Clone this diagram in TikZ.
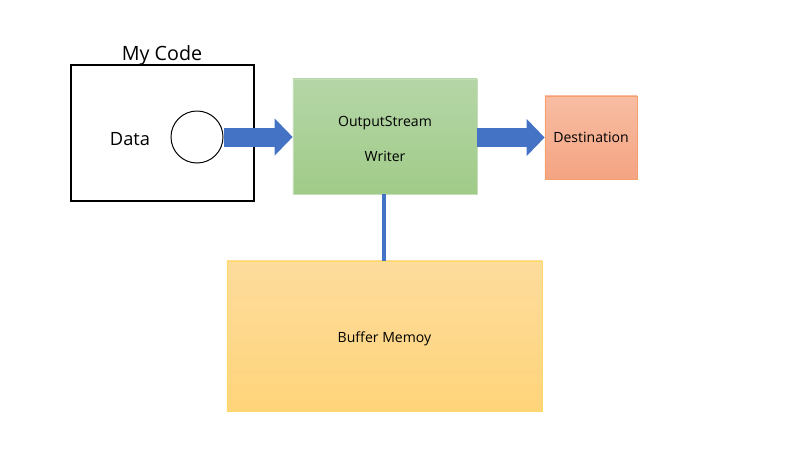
\documentclass[tikz,border=0pt]{standalone}
\usepackage{fontspec}
\setmainfont{Open Sans}
\usepackage{tikz}
\usetikzlibrary{
    arrows.meta,
    positioning,
    calc
}
\definecolor{flowblue}{HTML}{4472C4}
\definecolor{greentop}{HTML}{B5D6A7}
\definecolor{greenbot}{HTML}{A0CB88}
\definecolor{desttop}{HTML}{F8BDA3}
\definecolor{destbot}{HTML}{F4A482}
\definecolor{destline}{HTML}{F4A06E}
\definecolor{buftop}{HTML}{FDDC9C}
\definecolor{bufbot}{HTML}{FFD47A}
\definecolor{bufline}{HTML}{FFD966}

\begin{document}
\begin{tikzpicture}[
            x=0.025cm, y=-0.025cm,
            font=\fontsize{10}{12}\selectfont,
            container/.style={draw, line width=1.4pt, minimum width=4.575cm, minimum height=3.4cm},
            title/.style={font=\fontsize{14}{16}\selectfont},
            datalabel/.style={font=\fontsize{13}{15}\selectfont},
            datacircle/.style={draw, circle, line width=0.7pt, minimum size=1.3cm, inner sep=0pt},
            writer/.style={top color=greentop, bottom color=greenbot, draw=greentop!80!white,
                           line width=0.4pt, minimum width=4.6cm, minimum height=2.875cm},
            dest/.style={top color=desttop, bottom color=destbot, draw=destline,
                         line width=0.5pt, minimum width=2.3cm, minimum height=2.075cm},
            buffer/.style={top color=buftop, bottom color=bufbot, draw=bufline,
                           line width=0.5pt, minimum width=7.875cm, minimum height=3.75cm},
            blockarr/.style={flowblue, line width=0.475cm,
                             -{Triangle[length=0.45cm, width=0.9cm]}},
            link/.style={flowblue, line width=3.5pt}
        ]
            \useasboundingbox (0,0) rectangle (800,450);

            \node[container] (mycode) at (162.5,133) {};
            \node[title] (codetitle) at (162,55) {My Code};
            \node[datalabel] (data) at (130,139) {Data};
            \node[datacircle] (circ) at (197,137) {};

            \node[writer] (writer) at (385,136.5) {};
            \node[align=center, font=\fontsize{10}{25.5}\selectfont] (writertext) at (385,139)
                {OutputStream\\Writer};
            \node[dest] (dest) at (591,137.5) {Destination};
            \node[buffer] (buffer) at (384.5,336) {};
            \node (buftext) at (384.5,339) {Buffer Memoy};

            \draw[blockarr] (circ.east) -- (circ.east -| writer.west);
            \draw[blockarr] (writer.east |- dest.west) -- (dest.west);
            \draw[link] (writer.south -| 384,0) -- (buffer.north -| 384,0);
        \end{tikzpicture}
\end{document}
